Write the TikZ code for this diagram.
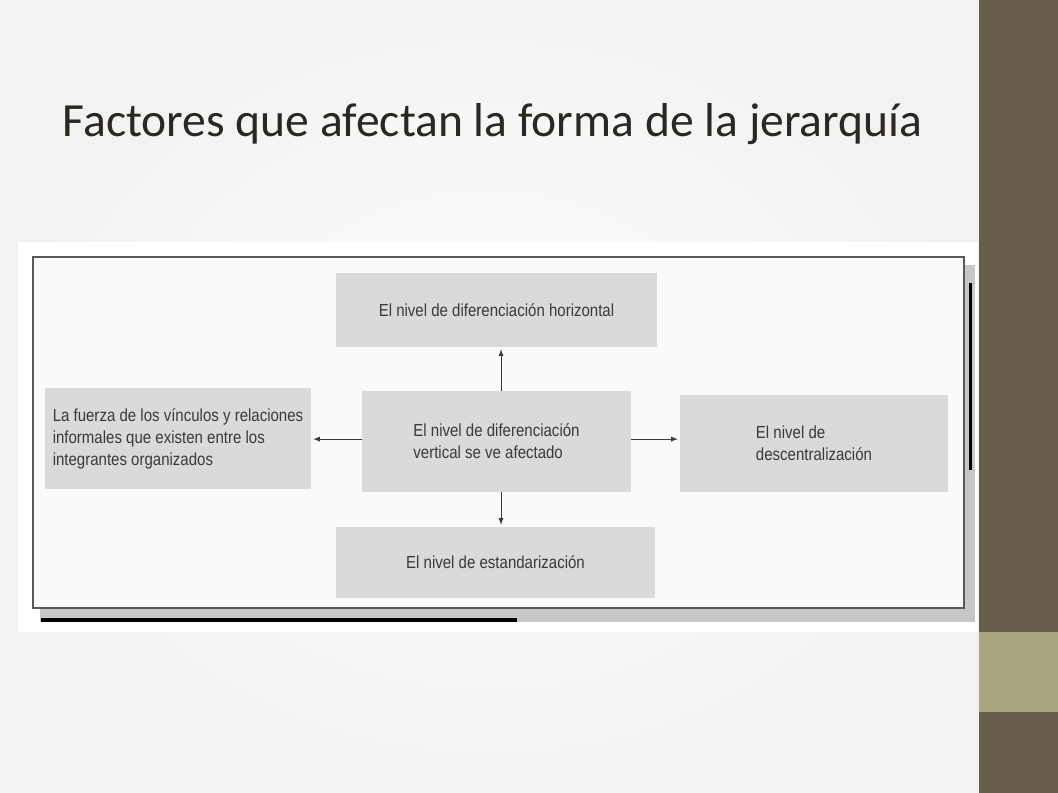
\documentclass[tikz,border=0pt]{standalone}
\usepackage{fontspec}
\setmainfont{Carlito}
\newfontfamily\scanfont[FakeStretch=0.86]{Liberation Sans}
\definecolor{sideolive}{HTML}{665E48}
\definecolor{sidelight}{HTML}{A9A57E}
\definecolor{boxgray}{HTML}{DADADA}
\definecolor{scaninkgray}{HTML}{3A3A3A}
\definecolor{titleink}{HTML}{2B2822}

\begin{document}
\begin{tikzpicture}[x=0.75pt, y=-0.75pt,
    factor/.style={fill=boxgray, text=scaninkgray, align=left,
      font=\scanfont\fontsize{13.1}{16.5}\selectfont, inner sep=0pt},
    link/.style={-latex, draw=scaninkgray, line width=0.7pt, shorten >=1.5pt}]
  \useasboundingbox (0,0) rectangle (1058,793);
  % slide background and side bar
  \shade[inner color=white, outer color=black!5] (0,0) rectangle (979,793);
  \fill[sideolive] (979,0) rectangle (1058,793);
  \fill[sidelight] (979,632) rectangle (1058,712);
  \node[anchor=base west, text=titleink, font=\fontsize{35.7}{40}\selectfont]
    (title) at (58,136) {Factores que afectan la forma de la jerarquía};
  % scanned figure
  \fill[white] (18,242) rectangle (978,632);
  \fill[black!22] (40,608) rectangle (975,622);
  \fill[black!22] (964,265) rectangle (975,622);
  \fill[black] (41,618) rectangle (517,622);
  \fill[black] (969,283) rectangle (972,470);
  \draw[fill=black!2, draw=black!65, line width=0.9pt] (33,257) rectangle (964,608);
  \node[factor, minimum width=240.75pt, minimum height=55.5pt]
    (horiz) at (496.5,310) {El nivel de diferenciación horizontal};
  \node[factor, minimum width=201.75pt, minimum height=75.75pt]
    (vert) at (496.5,441.5) {El nivel de diferenciación\\vertical se ve afectado};
  \node[factor, minimum width=199.5pt, minimum height=75.75pt]
    (informal) at (178,438.5)
    {La fuerza de los vínculos y relaciones\\informales que existen entre los\\integrantes organizados};
  \node[factor, minimum width=201pt, minimum height=72.75pt]
    (descent) at (814,443.5) {El nivel de\\descentralización};
  \node[factor, minimum width=239.25pt, minimum height=53.25pt]
    (estand) at (495.5,562.5) {El nivel de estandarización};
  \draw[link] ([xshift=3.4pt]vert.north) -- ([xshift=3.4pt]vert.north |- horiz.south);
  \draw[link] ([xshift=3.4pt]vert.south) -- ([xshift=3.4pt]vert.south |- estand.north);
  \draw[link] ([yshift=1.8pt]vert.west) -- ([yshift=1.8pt]vert.west -| informal.east);
  \draw[link] ([yshift=1.8pt]vert.east) -- ([yshift=1.8pt]vert.east -| descent.west);
\end{tikzpicture}
\end{document}
